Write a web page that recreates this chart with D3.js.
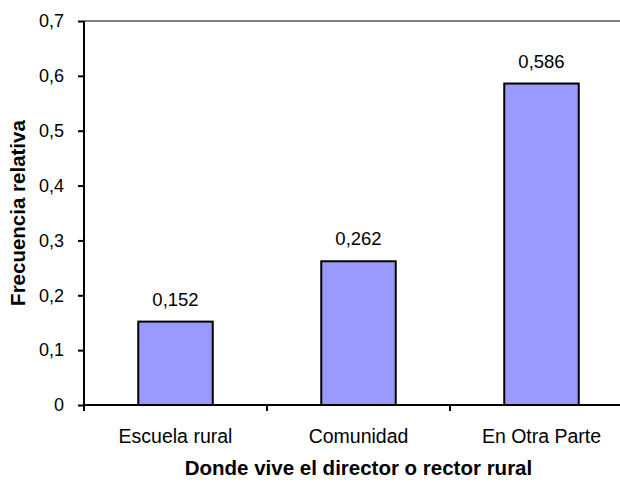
<!DOCTYPE html>
<html><head><meta charset="utf-8">
<script src="https://cdn.jsdelivr.net/npm/d3@7"></script>
<style>body{margin:0;background:#fff;overflow:hidden}svg{display:block;font-family:"Liberation Sans",Arial,sans-serif}</style>
</head><body>
<script>
const categories = ["Escuela rural", "Comunidad", "En Otra Parte"];
const values = [0.152, 0.262, 0.586];
const valueLabels = ["0,152", "0,262", "0,586"];
const yTicks = [0, 0.1, 0.2, 0.3, 0.4, 0.5, 0.6, 0.7];
const yTitle = "Frecuencia relativa";
const xTitle = "Donde vive el director o rector rural";

const W = 620, H = 483;
const m = {left: 84, top: 21, right: -13, bottom: 78};
const FF = "Liberation Sans, Arial, sans-serif";
const svg = d3.select("body").append("svg").attr("width", W).attr("height", H);
const x = d3.scaleBand().domain(categories).range([m.left, W - m.right]).paddingInner(0.593).paddingOuter(0.2965);
const x0 = d3.scaleBand().domain(categories).range([m.left, W - m.right]);
const y = d3.scaleLinear().domain([0, 0.7]).range([H - m.bottom, m.top]);
const fmt = d => d === 0 ? "0" : d3.format(".1f")(d).replace(".", ",");

// top border
svg.append("line").attr("x1", m.left).attr("x2", W).attr("y1", y(0.7)).attr("y2", y(0.7))
  .attr("stroke", "#808080").attr("stroke-width", 2);

svg.selectAll("rect.bar").data(values).join("rect").attr("class", "bar")
  .attr("x", (d, i) => x(categories[i])).attr("width", x.bandwidth())
  .attr("y", d => y(d)).attr("height", d => y(0) - y(d))
  .attr("fill", "#9999ff").attr("stroke", "#000").attr("stroke-width", 2);

svg.selectAll("text.val").data(values).join("text").attr("class", "val")
  .attr("x", (d, i) => x(categories[i]) + x.bandwidth() / 2).attr("y", d => y(d) - 16)
  .attr("text-anchor", "middle").attr("font-size", 18.5).attr("fill", "#000")
  .text((d, i) => valueLabels[i]);

// y axis
const ya = svg.append("g").attr("transform", `translate(${m.left},0)`)
  .call(d3.axisLeft(y).tickValues(yTicks).tickFormat(fmt).tickSize(6).tickPadding(14));
ya.select(".domain").attr("stroke-width", 2).attr("d", `M0,${y(0)}V${y(0.7)}`);
ya.selectAll(".tick line").attr("stroke-width", 2);
ya.selectAll(".tick text").attr("font-size", 18).attr("fill", "#000").attr("font-family", FF);

// x axis
const xa = svg.append("g").attr("transform", `translate(0,${y(0)})`)
  .call(d3.axisBottom(x0).tickSize(0).tickPadding(24));
xa.select(".domain").attr("stroke-width", 2).attr("d", `M${m.left},0H${W}`);
xa.selectAll(".tick text").attr("font-size", 19.5).attr("fill", "#000").attr("font-family", FF);
xa.selectAll("line.sep").data([0, 1, 2]).join("line").attr("class", "sep")
  .attr("x1", i => x0(categories[i])).attr("x2", i => x0(categories[i]))
  .attr("y1", 0).attr("y2", 6).attr("stroke", "#000").attr("stroke-width", 2);

const [rx0, rx1] = x0.range();
svg.append("text").attr("x", (rx0 + rx1) / 2).attr("y", 475).attr("text-anchor", "middle")
  .attr("font-size", 20.5).attr("font-weight", "bold").text(xTitle);
svg.append("text").attr("transform", `translate(25,${(y(0)+y(0.7))/2}) rotate(-90)`)
  .attr("text-anchor", "middle").attr("font-size", 20.5).attr("font-weight", "bold").text(yTitle);
</script>
</body></html>
